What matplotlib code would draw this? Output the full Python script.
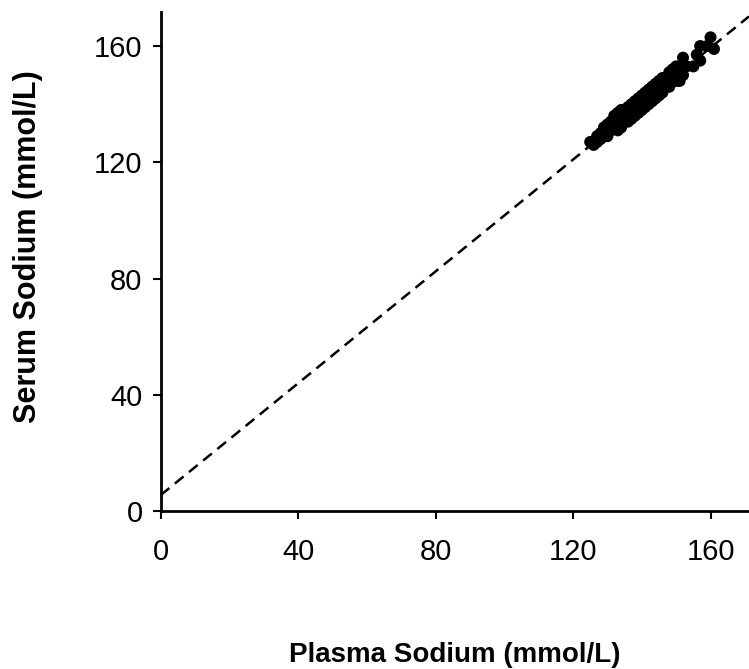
#!/usr/bin/env python3
"""Serum vs plasma sodium scatter with fitted dashed line."""

import numpy as np
import matplotlib
matplotlib.use("Agg")
import matplotlib.pyplot as plt

plt.rcParams["font.family"] = ["Liberation Sans", "DejaVu Sans"]

# Data (mmol/L)
plasma_na = [125, 126, 127, 127, 128, 128, 129, 129, 130, 130, 130, 131, 131,
             132, 132, 132, 133, 133, 133, 134, 134, 134, 135, 135, 135,
             136, 136, 136, 137, 137, 137, 138, 138, 138, 139, 139, 139,
             140, 140, 140, 141, 141, 141, 142, 142, 142, 143, 143, 143,
             144, 144, 144, 145, 145, 145, 146, 146, 146, 147, 147,
             148, 148, 148, 149, 149, 150, 150, 150, 151, 151, 152, 152,
             153, 155, 156, 157, 157, 159, 160, 161]
serum_na = [127, 126, 129, 127, 130, 128, 132, 129, 133, 130, 129, 134, 131,
            136, 132, 133, 137, 133, 131, 138, 134, 132, 138, 136, 134,
            139, 137, 134, 140, 138, 135, 141, 139, 136, 142, 139, 137,
            143, 141, 138, 144, 141, 139, 145, 143, 140, 146, 143, 141,
            147, 145, 142, 148, 146, 143, 149, 146, 144, 149, 147,
            151, 148, 146, 152, 150, 153, 151, 148, 152, 148, 156, 150,
            153, 153, 157, 160, 155, 160, 163, 159]

# Dashed fit line: serum = intercept + slope * plasma
fit_intercept = 5.5
fit_slope = 0.962

xticks = [0, 40, 80, 120, 160]
yticks = [0, 40, 80, 120, 160]
xmax, ymax = 171.2, 171.7

fig = plt.figure(figsize=(7.49, 6.69), dpi=100)
ax = fig.add_axes([0.2145, 0.236, 1.0 - 0.2145, 0.982 - 0.236])

xs = np.array([0, xmax])
ax.plot(xs, fit_intercept + fit_slope * xs, color="black", lw=1.8,
        dashes=(4.5, 2.8), zorder=2, clip_on=False)
ax.scatter(plasma_na, serum_na, s=75, color="black", edgecolors="none",
           zorder=3, clip_on=False)

ax.set_xlim(0, xmax)
ax.set_ylim(0, ymax)
ax.set_xticks(xticks)
ax.set_yticks(yticks)

for side in ("top", "right"):
    ax.spines[side].set_visible(False)
for side in ("left", "bottom"):
    ax.spines[side].set_linewidth(2.0)

ax.tick_params(axis="both", direction="out", length=6, width=1.5,
               labelsize=21)
ax.tick_params(axis="y", pad=7)
ax.tick_params(axis="x", pad=13)

fig.text(0.607, 0.011, "Plasma Sodium (mmol/L)", ha="center", va="baseline",
         fontsize=20, fontweight="bold")
fig.text(0.038, 0.6315, "Serum Sodium (mmol/L)", ha="center", va="center",
         rotation=90, fontsize=22, fontweight="bold")

fig.savefig("out.png", dpi=100)
